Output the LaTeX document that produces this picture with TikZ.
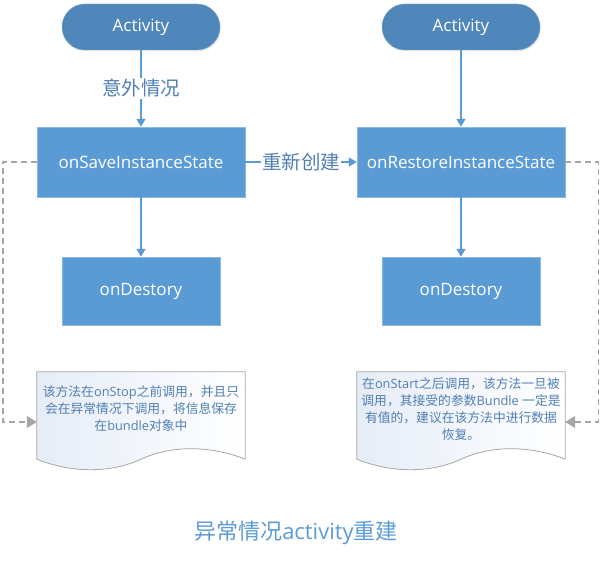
\documentclass[tikz,border=0pt]{standalone}
\usepackage{fontspec}
\usepackage{tikz}
\usetikzlibrary{positioning,arrows.meta,shadows}
\setmainfont{Open Sans}
\newfontfamily\cjk{Noto Sans CJK SC}
\definecolor{pillblue}{HTML}{4F87BB}
\definecolor{boxblue}{HTML}{5B9BD5}
\definecolor{textblue}{HTML}{4F7FB5}
\definecolor{docgray}{HTML}{A6A6A6}
\definecolor{doctint}{HTML}{E6ECF7}
\tikzset{
  pill/.style={draw=pillblue!80!white, fill=pillblue, text=white, rounded corners=23pt,
    minimum width=158pt, minimum height=46pt, font=\fontsize{17}{20}\selectfont,
    drop shadow={shadow xshift=1pt, shadow yshift=-1.5pt, opacity=0.15}},
  bigbox/.style={draw=boxblue!70!white, fill=boxblue, text=white,
    minimum width=208pt, minimum height=70pt, font=\fontsize{17}{20}\selectfont},
  smallbox/.style={bigbox, minimum width=158pt, minimum height=68pt},
  doc/.style={minimum width=208pt, minimum height=100pt, inner sep=0pt},
  doctext/.style={text=textblue, align=center, inner sep=0pt,
    font=\fontsize{12.8}{17}\selectfont},
  docshape/.style={draw=docgray, line width=0.8pt, left color=doctint, right color=white},
  flow/.style={boxblue, line width=1.4pt, -{Triangle[length=8pt,width=9pt]}},
  back/.style={docgray, line width=1.4pt, dash pattern=on 6pt off 4pt,
    -{Triangle[length=10pt,width=12pt]}},
  lbl/.style={fill=white, text=textblue, inner sep=1pt, font=\cjk\fontsize{19.5}{22}\selectfont}
}
\begin{document}
\begin{tikzpicture}[x=1pt,y=-1pt]
\useasboundingbox (0,0) rectangle (602,561);
\node[pill] (actL) at (141,27) {Activity};
\node[pill] (actR) at (461,27) {Activity};
\node[bigbox] (save) at (141,162) {onSaveInstanceState};
\node[bigbox] (restore) at (461,162) {onRestoreInstanceState};
\node[smallbox] (desL) at (141,291) {onDestory};
\node[smallbox] (desR) at (461,291) {onDestory};
\node[doc] (docL) at (141,422) {};
\node[doc] (docR) at (461,422) {};
\foreach \d in {docL,docR}
  \draw[docshape] (\d.north west) -- (\d.north east) -- ([yshift=13pt]\d.south east)
    .. controls +(-35,-14) and +(30,-14) .. ([yshift=13pt]\d.south)
    .. controls +(-30,14) and +(35,14) .. ([yshift=13pt]\d.south west) -- cycle;
\node[doctext] (noteL) at ([yshift=13pt]docL.center)
  {{\cjk 该方法在}onStop{\cjk 之前调用，并且只}\\{\cjk 会在异常情况下调用，将信息保存}\\{\cjk 在}bundle{\cjk 对象中}};
\node[doctext] (noteR) at ([yshift=13pt]docR.center)
  {{\cjk 在}onStart{\cjk 之后调用，该方法一旦被}\\{\cjk 调用，其接受的参数}Bundle {\cjk 一定是}\\{\cjk 有值的，建议在该方法中进行数据}\\{\cjk 恢复。}};
\draw[flow] (actL) -- node[lbl] {意外情况} (save);
\draw[flow] (actR) -- (restore);
\draw[flow] (save) -- node[lbl] {重新创建} (restore);
\draw[flow] (save) -- (desL);
\draw[flow] (restore) -- (desR);
\draw[back] (save.west) -- ++(-34,0) |- (docL.west);
\draw[back] (restore.east) -- ++(33,0) |- (docR.east);
\node[text=boxblue, font=\fontsize{22}{26}\selectfont] (title) at (296,533)
  {{\cjk 异常情况}activity{\cjk 重建}};
\end{tikzpicture}
\end{document}
